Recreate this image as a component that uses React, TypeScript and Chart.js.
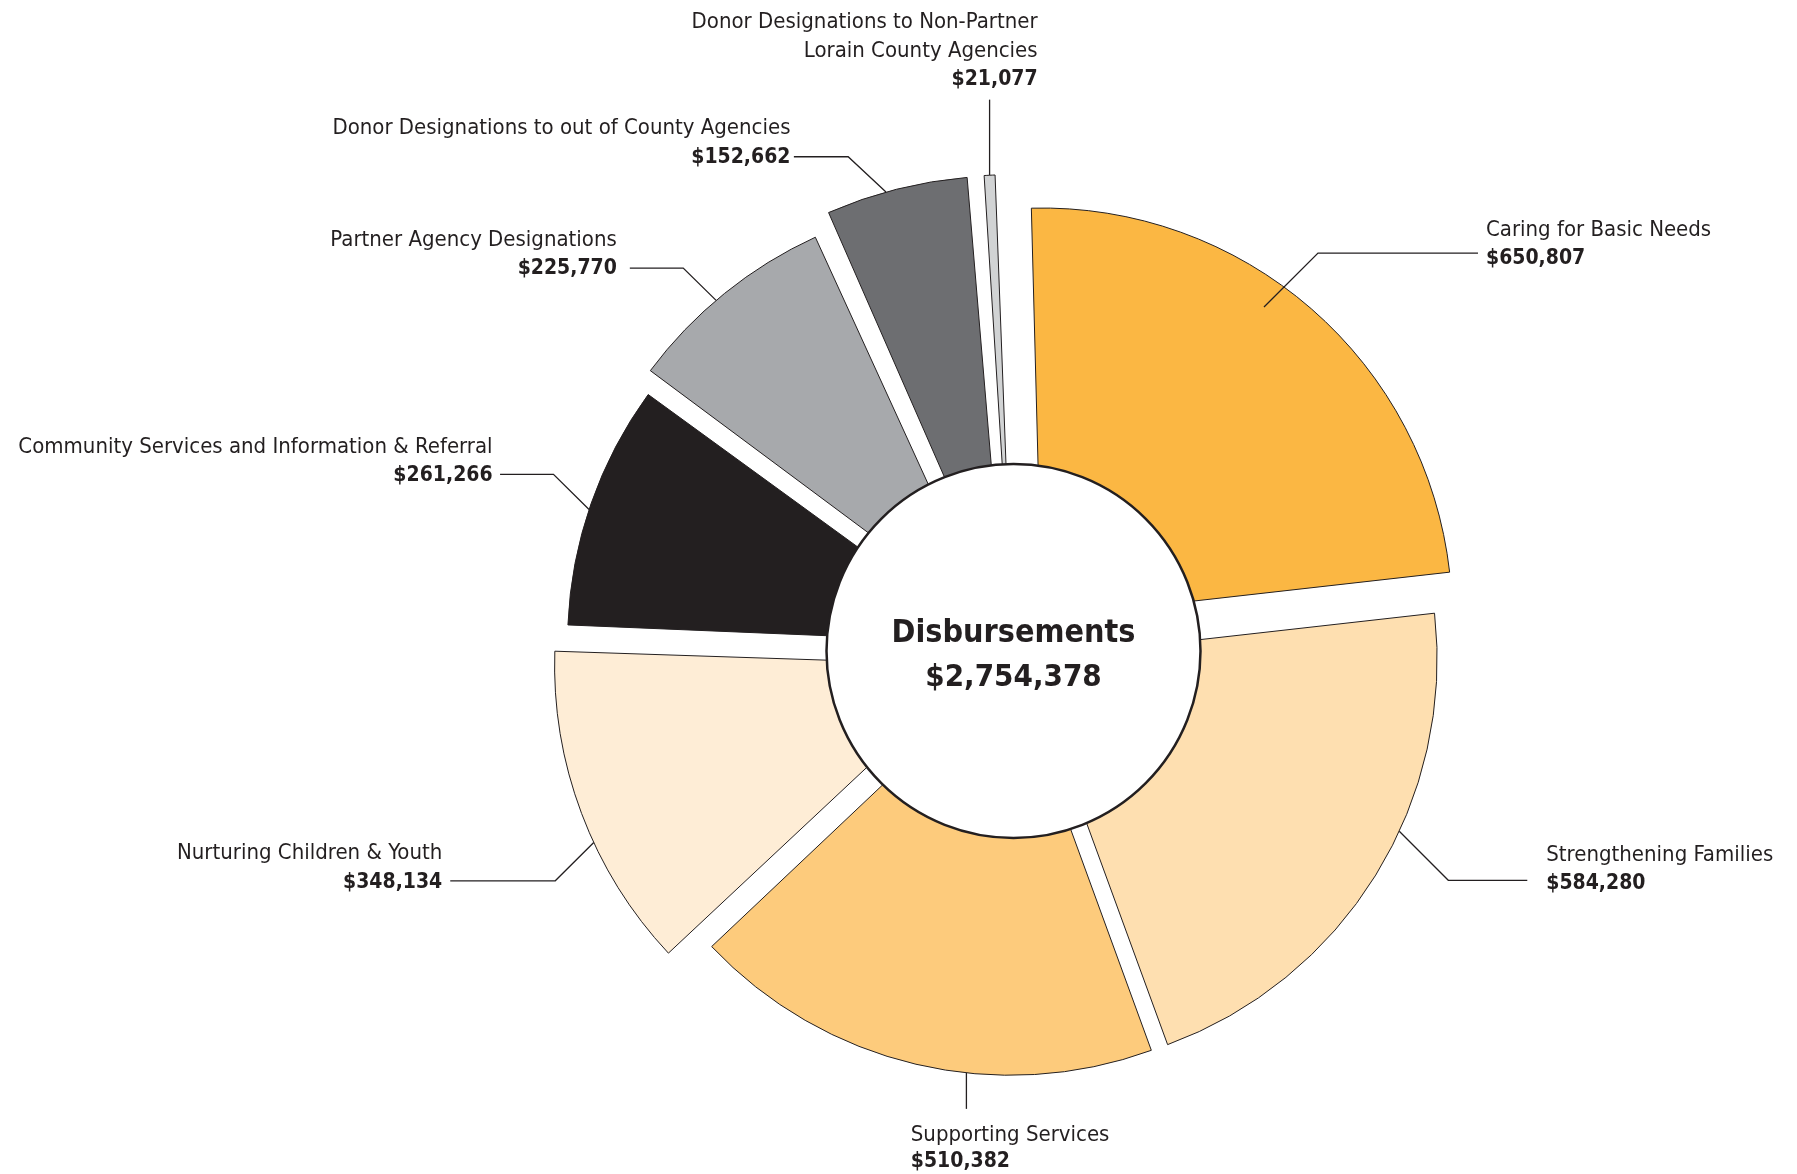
import React, { useEffect, useRef } from 'react';
import { Chart, registerables } from 'chart.js';

Chart.register(...registerables);

// ---------- data ----------
const CATEGORIES: string[] = [
  'Caring for Basic Needs',
  'Strengthening Families',
  'Supporting Services',
  'Nurturing Children & Youth',
  'Community Services and Information & Referral',
  'Partner Agency Designations',
  'Donor Designations to out of County Agencies',
  'Donor Designations to Non-Partner Lorain County Agencies',
];
const VALUES: number[] = [650807, 584280, 510382, 348134, 261266, 225770, 152662, 21077];
const LABEL_LINES: string[][] = [
  ['Caring for Basic Needs'],
  ['Strengthening Families'],
  ['Supporting Services'],
  ['Nurturing Children & Youth'],
  ['Community Services and Information & Referral'],
  ['Partner Agency Designations'],
  ['Donor Designations to out of County Agencies'],
  ['Donor Designations to Non-Partner', 'Lorain County Agencies'],
];
const CENTER_TITLE = 'Disbursements';

// ---------- style ----------
const COLORS = ['#FBB743', '#FEDFB0', '#FDCB7C', '#FEEDD6', '#231F20', '#A7A9AC', '#6D6E71', '#D1D3D4'];
const OFFSETS = [174, 62, 54, 160, 104, 132, 160, 136];
const INK = '#231F20';
const FONT = '"Liberation Sans Narrow", "DejaVu Sans Condensed", Roboto, sans-serif';
const HOLE_RADIUS = 187;
const LINE_H = 28.5;
const TITLE_FONT = `22px ${FONT}`;
const VALUE_FONT = `bold 21px ${FONT}`;

type Leader = {
  frac: number; inset: number; dx: number; dy: number; len: number; gap: number;
  side: 'left' | 'right' | 'up' | 'down'; vOff: number; textDx?: number; lineH?: number;
};
const LEADERS: Leader[] = [
  { frac: 0.435, inset: 28, dx: 54, dy: -54, len: 160, gap: 8, side: 'right', vOff: 11 },
  { frac: 0.409, inset: 0, dx: 49, dy: 49, len: 79, gap: 19, side: 'right', vOff: 9 },
  { frac: 0.393, inset: 0, dx: 0, dy: 36, len: 0, gap: 0, side: 'down', vOff: 31.8, textDx: -55.6, lineH: 26 },
  { frac: 0.406, inset: 0, dx: -38.5, dy: 38.3, len: 105, gap: 8, side: 'left', vOff: 7 },
  { frac: 0.476, inset: 0, dx: -35.6, dy: -35.2, len: 53.4, gap: 7.5, side: 'left', vOff: 7 },
  { frac: 0.451, inset: 0, dx: -32.9, dy: -32.3, len: 53.4, gap: 13, side: 'left', vOff: 6 },
  { frac: 0.429, inset: 0, dx: -37.8, dy: -35.3, len: 54.3, gap: 3.4, side: 'left', vOff: 6 },
  { frac: 0.5, inset: 0, dx: 0, dy: -75.6, len: 0, gap: 0, side: 'up', vOff: -14.6, textDx: 48 },
];

const fmt = (v: number) => '$' + v.toLocaleString('en-US');

const overlayPlugin = {
  id: 'overlay',
  afterDatasetsDraw(chart: any) {
    const ctx: CanvasRenderingContext2D = chart.ctx;
    const meta = chart.getDatasetMeta(0);
    const arcs = meta.data;
    if (!arcs.length) return;
    const cx0 = arcs[0].x;
    const cy0 = arcs[0].y;
    const total = VALUES.reduce((a, b) => a + b, 0);

    ctx.save();
    // center hole
    ctx.beginPath();
    ctx.arc(cx0, cy0, HOLE_RADIUS, 0, Math.PI * 2);
    ctx.fillStyle = '#FFFFFF';
    ctx.fill();
    ctx.lineWidth = 2.5;
    ctx.strokeStyle = INK;
    ctx.stroke();

    ctx.fillStyle = INK;
    ctx.textAlign = 'center';
    ctx.textBaseline = 'alphabetic';
    ctx.font = `bold 32px ${FONT}`;
    ctx.fillText(CENTER_TITLE, cx0, cy0 - 9);
    ctx.font = `bold 31px ${FONT}`;
    ctx.fillText(fmt(total), cx0, cy0 + 35);

    // leaders + labels
    arcs.forEach((arc: any, i: number) => {
      const st = LEADERS[i];
      const p = arc.getProps(['x', 'y', 'startAngle', 'endAngle', 'outerRadius', 'circumference'], true);
      const o = (arc.options.offset || 0) / 4;
      const half = (p.startAngle + p.endAngle) / 2;
      const wx = p.x + Math.cos(half) * o;
      const wy = p.y + Math.sin(half) * o;
      const fix = 1 - Math.sin(Math.min(Math.PI, p.circumference || 0));
      const R = p.outerRadius + o * fix;
      const a = p.startAngle + st.frac * (p.endAngle - p.startAngle);
      const r = R - st.inset;
      const ax = wx + Math.cos(a) * r;
      const ay = wy + Math.sin(a) * r;
      const ex = ax + st.dx;
      const ey = ay + st.dy;
      const lx = st.side === 'left' ? ex - st.len : st.side === 'right' ? ex + st.len : ex;

      ctx.beginPath();
      ctx.moveTo(ax, ay);
      ctx.lineTo(ex, ey);
      if (st.len) ctx.lineTo(lx, ey);
      ctx.lineWidth = 1.3;
      ctx.strokeStyle = INK;
      ctx.stroke();

      const lines = LABEL_LINES[i];
      const value = fmt(VALUES[i]);
      const lh = st.lineH || LINE_H;
      ctx.fillStyle = INK;
      if (st.side === 'left' || st.side === 'right' || st.side === 'up') {
        let tx: number;
        if (st.side === 'left') { ctx.textAlign = 'right'; tx = lx - st.gap; }
        else if (st.side === 'right') { ctx.textAlign = 'left'; tx = lx + st.gap; }
        else { ctx.textAlign = 'right'; tx = ex + (st.textDx || 0); }
        const vb = ey + st.vOff;
        ctx.font = VALUE_FONT;
        ctx.fillText(value, tx, vb);
        ctx.font = TITLE_FONT;
        lines.forEach((ln, k) => {
          ctx.fillText(ln, tx, vb - lh * (lines.length - k));
        });
      } else {
        ctx.textAlign = 'left';
        const tx = ex + (st.textDx || 0);
        let b = ey + st.vOff;
        ctx.font = TITLE_FONT;
        lines.forEach((ln) => { ctx.fillText(ln, tx, b); b += lh; });
        ctx.font = VALUE_FONT;
        ctx.fillText(value, tx, b);
      }
    });
    ctx.restore();
  },
};

export default function App() {
  const ref = useRef<HTMLCanvasElement | null>(null);
  useEffect(() => {
    if (!ref.current) return;
    const chart = new Chart(ref.current, {
      type: 'pie',
      data: {
        labels: CATEGORIES,
        datasets: [
          {
            data: VALUES,
            backgroundColor: COLORS,
            borderColor: INK,
            borderWidth: 1,
            offset: OFFSETS,
            radius: 410,
            rotation: -1.5,
            clip: false,
          } as any,
        ],
      },
      options: {
        responsive: false,
        animation: false,
        events: [],
        layout: { padding: { left: 230, right: 0, top: 128, bottom: 0 } },
        plugins: { legend: { display: false }, tooltip: { enabled: false } },
      },
      plugins: [overlayPlugin],
    });
    return () => chart.destroy();
  }, []);
  return (
    <div style={{ position: 'absolute', left: 0, top: 0, width: 1797, height: 1174, overflow: 'hidden', background: '#fff' }}>
      <canvas ref={ref} width={1797} height={1174} style={{ display: 'block', width: 1797, height: 1174 }} />
    </div>
  );
}
